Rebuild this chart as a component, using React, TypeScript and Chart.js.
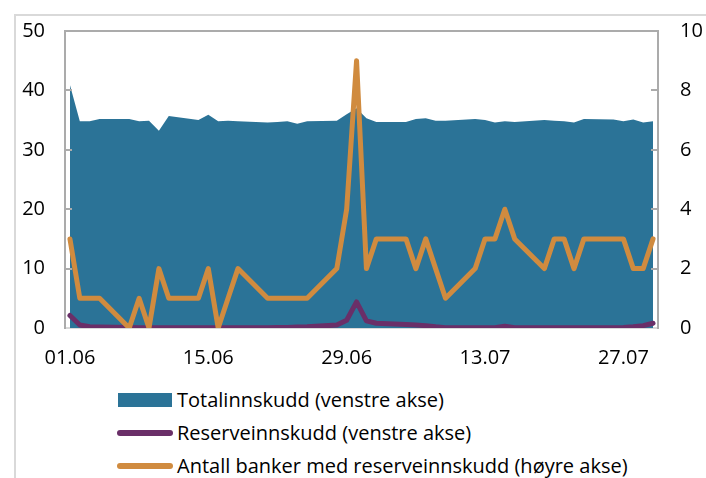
import React, { useEffect, useRef } from "react";
import { Chart, registerables } from "chart.js";

Chart.register(...registerables);

const dates = [
  "01.06","02.06","03.06","04.06","05.06","06.06","07.06","08.06","09.06","10.06",
  "11.06","12.06","13.06","14.06","15.06","16.06","17.06","18.06","19.06","20.06",
  "21.06","22.06","23.06","24.06","25.06","26.06","27.06","28.06","29.06","30.06",
  "01.07","02.07","03.07","04.07","05.07","06.07","07.07","08.07","09.07","10.07",
  "11.07","12.07","13.07","14.07","15.07","16.07","17.07","18.07","19.07","20.07",
  "21.07","22.07","23.07","24.07","25.07","26.07","27.07","28.07","29.07","30.07",
];

const totalDeposits = [
  40.9, 34.8, 34.8, 35.2, null, null, 35.2, 34.8, 34.9, 33.2,
  35.7, null, null, 35.0, 35.9, 34.8, 34.9, 34.8, null, null,
  34.6, 34.7, 34.8, 34.4, 34.8, null, null, 34.9, 36.0, 37.0,
  35.3, 34.7, null, null, 34.7, 35.2, 35.3, 34.9, 34.9, null,
  null, 35.2, 35.0, 34.6, 34.8, 34.7, null, null, 35.0, 34.9,
  34.8, 34.6, 35.2, null, null, 35.1, 34.8, 35.1, 34.6, 34.8,
];

const reserveDeposits = [
  2.1, 0.5, 0.2, 0.15, null, null, 0.1, 0.05, 0.05, 0.05,
  0.05, null, null, 0.05, 0.05, 0.05, 0.05, 0.05, null, null,
  0.05, 0.1, 0.1, 0.15, 0.2, null, null, 0.5, 1.3, 4.4,
  1.2, 0.8, null, null, 0.6, 0.5, 0.4, 0.2, 0.05, null,
  null, 0.05, 0.05, 0.05, 0.3, 0.05, null, null, 0.05, 0.05,
  0.05, 0.05, 0.05, null, null, 0.05, 0.1, 0.2, 0.4, 0.8,
];

const banksWithReserve = [
  3, 1, 1, 1, null, null, 0, 1, 0, 2,
  1, null, null, 1, 2, 0, 1, 2, null, null,
  1, 1, 1, 1, 1, null, null, 2, 4, 9,
  2, 3, null, null, 3, 2, 3, 2, 1, null,
  null, 2, 3, 3, 4, 3, null, null, 2, 3,
  3, 2, 3, null, null, 3, 3, 2, 2, 3,
];

const leftTicks = [0, 10, 20, 30, 40, 50];
const rightTicks = [0, 2, 4, 6, 8, 10];
const legendLabels = [
  "Totalinnskudd (venstre akse)",
  "Reserveinnskudd (venstre akse)",
  "Antall banker med reserveinnskudd (høyre akse)",
];

const BLUE = "#2b7397";
const PURPLE = "#6a2f68";
const ORANGE = "#d08b3f";
const FONT = "'Open Sans', sans-serif";

const framePlugin = {
  id: "frame",
  beforeDatasetsDraw(chart: any) {
    const { ctx, chartArea: a } = chart;
    ctx.save();
    ctx.lineWidth = 2;
    ctx.strokeStyle = "#d9d9d9";
    ctx.beginPath();
    ctx.moveTo(a.left, a.bottom);
    ctx.lineTo(a.right, a.bottom);
    ctx.stroke();
    ctx.strokeStyle = "#ababab";
    ctx.beginPath();
    ctx.moveTo(a.left, a.bottom + 1);
    ctx.lineTo(a.left, a.top);
    ctx.lineTo(a.right, a.top);
    ctx.lineTo(a.right, a.bottom + 1);
    ctx.stroke();
    ctx.restore();
  },
  afterDatasetsDraw(chart: any) {
    const { ctx, chartArea: a, scales } = chart;
    ctx.save();
    ctx.lineWidth = 2;
    ctx.strokeStyle = "#ababab";
    leftTicks.forEach((v) => {
      if (v === 0 || v === 50) return;
      const y = Math.round(scales.y.getPixelForValue(v));
      ctx.beginPath();
      ctx.moveTo(a.left, y);
      ctx.lineTo(a.left + 7, y);
      ctx.stroke();
    });
    rightTicks.forEach((v) => {
      if (v === 0 || v === 10) return;
      const y = Math.round(scales.y1.getPixelForValue(v));
      ctx.beginPath();
      ctx.moveTo(a.right, y);
      ctx.lineTo(a.right - 7, y);
      ctx.stroke();
    });
    ctx.restore();
  },
};

export default function App() {
  const ref = useRef<HTMLCanvasElement>(null);

  useEffect(() => {
    const canvas = ref.current;
    if (!canvas) return;
    const chart = new Chart(canvas, {
      type: "line",
      data: {
        labels: dates,
        datasets: [
          {
            label: legendLabels[2],
            data: banksWithReserve,
            yAxisID: "y1",
            borderColor: ORANGE,
            borderWidth: 5,
            borderJoinStyle: "round",
            borderCapStyle: "round",
            pointRadius: 0,
            spanGaps: true,
            fill: false,
            order: 0,
          },
          {
            label: legendLabels[1],
            data: reserveDeposits,
            yAxisID: "y",
            borderColor: PURPLE,
            borderWidth: 5,
            borderJoinStyle: "round",
            borderCapStyle: "round",
            pointRadius: 0,
            spanGaps: true,
            fill: false,
            order: 1,
          },
          {
            label: legendLabels[0],
            data: totalDeposits,
            yAxisID: "y",
            borderColor: BLUE,
            backgroundColor: BLUE,
            borderWidth: 0,
            pointRadius: 0,
            spanGaps: true,
            fill: "origin",
            order: 2,
          },
        ],
      },
      options: {
        animation: false,
        responsive: false,
        maintainAspectRatio: false,
        layout: { padding: { top: 21, left: 0, right: 0, bottom: 0 } },
        plugins: {
          legend: { display: false },
          tooltip: { enabled: false },
          title: { display: false },
        },
        scales: {
          x: {
            type: "category",
            offset: true,
            grid: { display: false, drawTicks: false },
            border: { display: false },
            ticks: {
              autoSkip: false,
              maxRotation: 0,
              padding: 18,
              color: "#000",
              font: { family: FONT, size: 20 },
              callback: (_v: any, i: number) => (i % 14 === 0 ? dates[i] : ""),
            },
            afterFit: (s: any) => {
              s.height = 49;
            },
          },
          y: {
            position: "left",
            min: 0,
            max: 50,
            afterBuildTicks: (s: any) => {
              s.ticks = leftTicks.map((v) => ({ value: v }));
            },
            grid: { display: false, drawTicks: false },
            border: { display: false },
            ticks: {
              padding: 20,
              color: "#000",
              font: { family: FONT, size: 20 },
            },
            afterFit: (s: any) => {
              s.width = 65;
            },
          },
          y1: {
            position: "right",
            min: 0,
            max: 10,
            afterBuildTicks: (s: any) => {
              s.ticks = rightTicks.map((v) => ({ value: v }));
            },
            grid: { display: false, drawTicks: false },
            border: { display: false },
            ticks: {
              padding: 22,
              color: "#000",
              font: { family: FONT, size: 20 },
            },
            afterFit: (s: any) => {
              s.width = 48;
            },
          },
        },
      },
      plugins: [framePlugin],
    } as any);
    return () => chart.destroy();
  }, []);

  const textStyle: React.CSSProperties = {
    position: "absolute",
    left: 177,
    fontFamily: FONT,
    fontSize: 20,
    color: "#000",
    lineHeight: "28px",
    whiteSpace: "nowrap",
  };

  return (
    <div
      style={{
        position: "fixed",
        left: 0,
        top: 0,
        width: 706,
        height: 478,
        background: "#fff",
        overflow: "hidden",
      }}
    >
      <div
        style={{
          position: "absolute",
          left: 14,
          top: 14,
          right: -10,
          bottom: -10,
          borderLeft: "2px solid #d9d9d9",
          borderTop: "2px solid #d9d9d9",
        }}
      />
      <canvas
        ref={ref}
        width={706}
        height={380}
        style={{ position: "absolute", left: 0, top: -3, width: 706, height: 380 }}
      />
      <div style={{ position: "absolute", left: 118, top: 393, width: 54, height: 14, background: BLUE }} />
      <div style={{ ...textStyle, top: 386 }}>{legendLabels[0]}</div>
      <div style={{ position: "absolute", left: 117, top: 430, width: 56, height: 6, borderRadius: 3, background: PURPLE }} />
      <div style={{ ...textStyle, top: 419 }}>{legendLabels[1]}</div>
      <div style={{ position: "absolute", left: 117, top: 463, width: 56, height: 6, borderRadius: 3, background: ORANGE }} />
      <div style={{ ...textStyle, top: 452 }}>{legendLabels[2]}</div>
    </div>
  );
}
